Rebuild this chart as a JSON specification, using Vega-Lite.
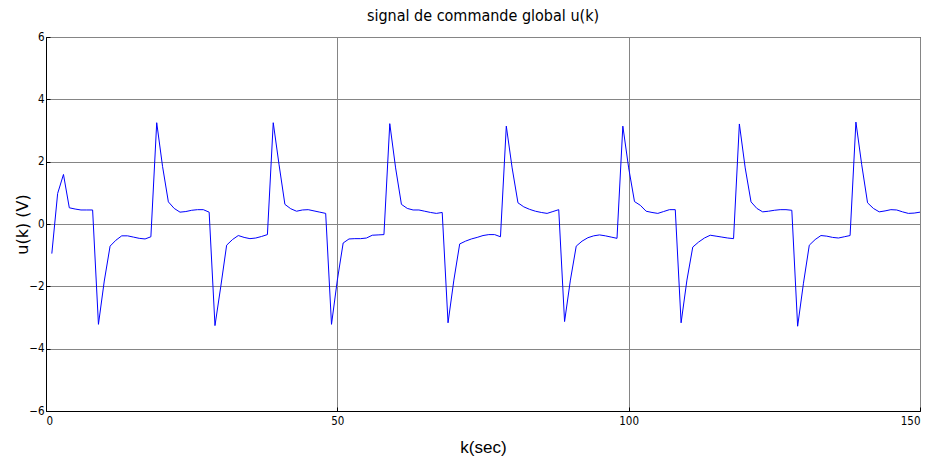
{
  "$schema": "https://vega.github.io/schema/vega-lite/v6.json",
  "autosize": "none",
  "width": 874,
  "height": 374,
  "padding": {"left": 46, "top": 37, "right": 12, "bottom": 53},
  "background": "white",
  "title": {
    "text": "signal de commande global u(k)",
    "font": "'Liberation Sans Narrow', 'DejaVu Sans Condensed', sans-serif",
    "fontSize": 16,
    "fontWeight": "normal",
    "color": "black",
    "offset": 7
  },
  "config": {
    "view": {"stroke": "black", "strokeWidth": 1},
    "axis": {
      "labelFont": "'Liberation Sans Narrow', 'DejaVu Sans Condensed', sans-serif",
      "labelFontSize": 11.5,
      "labelColor": "black",
      "domainColor": "black",
      "tickColor": "black",
      "gridColor": "#858585",
      "gridOpacity": 1,
      "gridWidth": 1,
      "titleColor": "black",
      "titleFontWeight": "normal"
    }
  },
  "data": {
    "values": [
      {"k": 1, "u": -0.95}, {"k": 2, "u": 0.98}, {"k": 3, "u": 1.59}, {"k": 4, "u": 0.52}, {"k": 5, "u": 0.48},
      {"k": 6, "u": 0.45}, {"k": 7, "u": 0.45}, {"k": 8, "u": 0.45}, {"k": 9, "u": -3.22}, {"k": 10, "u": -1.83},
      {"k": 11, "u": -0.71}, {"k": 12, "u": -0.52}, {"k": 13, "u": -0.38}, {"k": 14, "u": -0.38}, {"k": 15, "u": -0.42},
      {"k": 16, "u": -0.46}, {"k": 17, "u": -0.48}, {"k": 18, "u": -0.41}, {"k": 19, "u": 3.25}, {"k": 20, "u": 1.85},
      {"k": 21, "u": 0.71}, {"k": 22, "u": 0.5}, {"k": 23, "u": 0.38}, {"k": 24, "u": 0.4}, {"k": 25, "u": 0.44},
      {"k": 26, "u": 0.46}, {"k": 27, "u": 0.46}, {"k": 28, "u": 0.38}, {"k": 29, "u": -3.26}, {"k": 30, "u": -2.0},
      {"k": 31, "u": -0.68}, {"k": 32, "u": -0.5}, {"k": 33, "u": -0.37}, {"k": 34, "u": -0.43}, {"k": 35, "u": -0.47},
      {"k": 36, "u": -0.45}, {"k": 37, "u": -0.4}, {"k": 38, "u": -0.34}, {"k": 39, "u": 3.25}, {"k": 40, "u": 1.9},
      {"k": 41, "u": 0.63}, {"k": 42, "u": 0.49}, {"k": 43, "u": 0.41}, {"k": 44, "u": 0.45}, {"k": 45, "u": 0.46},
      {"k": 46, "u": 0.42}, {"k": 47, "u": 0.38}, {"k": 48, "u": 0.34}, {"k": 49, "u": -3.22}, {"k": 50, "u": -1.8},
      {"k": 51, "u": -0.61}, {"k": 52, "u": -0.48}, {"k": 53, "u": -0.47}, {"k": 54, "u": -0.47}, {"k": 55, "u": -0.45},
      {"k": 56, "u": -0.36}, {"k": 57, "u": -0.35}, {"k": 58, "u": -0.34}, {"k": 59, "u": 3.22}, {"k": 60, "u": 1.8},
      {"k": 61, "u": 0.63}, {"k": 62, "u": 0.5}, {"k": 63, "u": 0.45}, {"k": 64, "u": 0.45}, {"k": 65, "u": 0.41},
      {"k": 66, "u": 0.37}, {"k": 67, "u": 0.34}, {"k": 68, "u": 0.37}, {"k": 69, "u": -3.17}, {"k": 70, "u": -1.8},
      {"k": 71, "u": -0.64}, {"k": 72, "u": -0.55}, {"k": 73, "u": -0.48}, {"k": 74, "u": -0.43}, {"k": 75, "u": -0.37},
      {"k": 76, "u": -0.34}, {"k": 77, "u": -0.34}, {"k": 78, "u": -0.41}, {"k": 79, "u": 3.14}, {"k": 80, "u": 1.8},
      {"k": 81, "u": 0.68}, {"k": 82, "u": 0.55}, {"k": 83, "u": 0.47}, {"k": 84, "u": 0.41}, {"k": 85, "u": 0.37},
      {"k": 86, "u": 0.34}, {"k": 87, "u": 0.4}, {"k": 88, "u": 0.46}, {"k": 89, "u": -3.13}, {"k": 90, "u": -1.8},
      {"k": 91, "u": -0.71}, {"k": 92, "u": -0.55}, {"k": 93, "u": -0.44}, {"k": 94, "u": -0.38}, {"k": 95, "u": -0.35},
      {"k": 96, "u": -0.38}, {"k": 97, "u": -0.42}, {"k": 98, "u": -0.46}, {"k": 99, "u": 3.14}, {"k": 100, "u": 1.8},
      {"k": 101, "u": 0.72}, {"k": 102, "u": 0.6}, {"k": 103, "u": 0.41}, {"k": 104, "u": 0.37}, {"k": 105, "u": 0.34},
      {"k": 106, "u": 0.4}, {"k": 107, "u": 0.46}, {"k": 108, "u": 0.46}, {"k": 109, "u": -3.17}, {"k": 110, "u": -1.8},
      {"k": 111, "u": -0.74}, {"k": 112, "u": -0.58}, {"k": 113, "u": -0.45}, {"k": 114, "u": -0.36}, {"k": 115, "u": -0.39},
      {"k": 116, "u": -0.42}, {"k": 117, "u": -0.45}, {"k": 118, "u": -0.47}, {"k": 119, "u": 3.21}, {"k": 120, "u": 1.8},
      {"k": 121, "u": 0.71}, {"k": 122, "u": 0.5}, {"k": 123, "u": 0.39}, {"k": 124, "u": 0.41}, {"k": 125, "u": 0.44},
      {"k": 126, "u": 0.46}, {"k": 127, "u": 0.46}, {"k": 128, "u": 0.44}, {"k": 129, "u": -3.28}, {"k": 130, "u": -1.9},
      {"k": 131, "u": -0.68}, {"k": 132, "u": -0.5}, {"k": 133, "u": -0.37}, {"k": 134, "u": -0.39}, {"k": 135, "u": -0.43},
      {"k": 136, "u": -0.45}, {"k": 137, "u": -0.41}, {"k": 138, "u": -0.37}, {"k": 139, "u": 3.27}, {"k": 140, "u": 1.9},
      {"k": 141, "u": 0.68}, {"k": 142, "u": 0.5}, {"k": 143, "u": 0.39}, {"k": 144, "u": 0.42}, {"k": 145, "u": 0.46},
      {"k": 146, "u": 0.45}, {"k": 147, "u": 0.39}, {"k": 148, "u": 0.34}, {"k": 149, "u": 0.35}, {"k": 150, "u": 0.38}
    ]
  },
  "mark": {"type": "line", "color": "#0000ff", "strokeWidth": 1, "interpolate": "linear"},
  "encoding": {
    "x": {
      "field": "k",
      "type": "quantitative",
      "scale": {"domain": [0, 150], "nice": false, "zero": false},
      "axis": {
        "values": [0, 50, 100, 150],
        "grid": true,
        "tickSize": -4,
        "labelPadding": 8,
        "title": "k(sec)",
        "titleFont": "Liberation Sans",
        "titleFontSize": 17,
        "titlePadding": 13
      }
    },
    "y": {
      "field": "u",
      "type": "quantitative",
      "scale": {"domain": [-6, 6], "nice": false},
      "axis": {
        "values": [-6, -4, -2, 0, 2, 4, 6],
        "grid": true,
        "tickSize": -4,
        "labelPadding": 6,
        "title": "u(k)  (V)",
        "titleFont": "DejaVu Sans",
        "titleFontSize": 16,
        "titleBaseline": "middle",
        "titleX": -24,
        "titleY": 187
      }
    }
  }
}
